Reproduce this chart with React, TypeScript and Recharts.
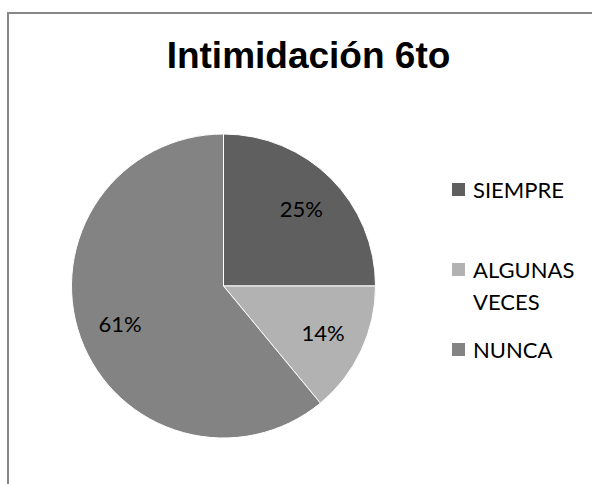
import React from "react";
import { PieChart, Pie, Cell, Legend } from "recharts";

const title = "Intimidación 6to";
const categories = ["SIEMPRE", "ALGUNAS VECES", "NUNCA"];
const legendLines = [["SIEMPRE"], ["ALGUNAS", "VECES"], ["NUNCA"]];
const values = [25, 14, 61];
const colors = ["#5f5f5f", "#b2b2b2", "#838383"];

const data = categories.map((name, i) => ({ name, value: values[i] }));

const RAD = Math.PI / 180;

const renderLabel = (props: any) => {
  const { cx, cy, midAngle, value } = props;
  const r = 110;
  const x = cx + r * Math.cos(-midAngle * RAD);
  const y = cy + r * Math.sin(-midAngle * RAD);
  return (
    <text
      x={x}
      y={y}
      fill="#000"
      textAnchor="middle"
      dominantBaseline="central"
      fontFamily="Lato, 'Liberation Sans', sans-serif"
      fontSize={22}
    >
      {`${value}%`}
    </text>
  );
};

const itemTops = [13, 93, 173];
const lineStep = 32;

const renderLegend = () => (
  <svg width={150} height={200}>
    {legendLines.map((lines, i) => (
      <g key={categories[i]}>
        <rect x={12} y={itemTops[i]} width={13} height={13} fill={colors[i]} />
        {lines.map((ln, j) => (
          <text
            key={ln}
            x={33}
            y={itemTops[i] + 15 + j * lineStep}
            fill="#000"
            fontFamily="Lato, 'Liberation Sans', sans-serif"
            fontSize={22}
          >
            {ln}
          </text>
        ))}
      </g>
    ))}
  </svg>
);

export default function App() {
  return (
    <div
      style={{
        position: "fixed",
        left: 0,
        top: 0,
        width: 592,
        height: 484,
        overflow: "hidden",
        background: "#fff",
      }}
    >
      <div
        style={{
          position: "absolute",
          left: 7,
          top: 12,
          width: 700,
          height: 700,
          borderTop: "2px solid #878787",
          borderLeft: "2px solid #878787",
        }}
      />
      <div
        style={{
          position: "absolute",
          left: 0,
          top: 37,
          width: 617,
          textAlign: "center",
          fontFamily: "'Liberation Sans', Arial, sans-serif",
          fontWeight: "bold",
          fontSize: 37,
          lineHeight: "37px",
          color: "#000",
        }}
      >
        {title}
      </div>
      <div style={{ position: "absolute", left: 0, top: 0 }}>
        <PieChart width={592} height={484} margin={{ top: 0, right: 0, bottom: 0, left: 0 }}>
          <Pie
            data={data}
            dataKey="value"
            nameKey="name"
            cx={223.5}
            cy={286}
            outerRadius={152}
            startAngle={90}
            endAngle={-270}
            stroke="#ffffff"
            strokeWidth={1}
            labelLine={false}
            label={renderLabel}
            isAnimationActive={false}
          >
            {data.map((d, i) => (
              <Cell key={d.name} fill={colors[i]} />
            ))}
          </Pie>
          <Legend
            content={renderLegend}
            wrapperStyle={{ position: "absolute", left: 440, top: 170, width: 150, height: 200 }}
          />
        </PieChart>
      </div>
    </div>
  );
}
